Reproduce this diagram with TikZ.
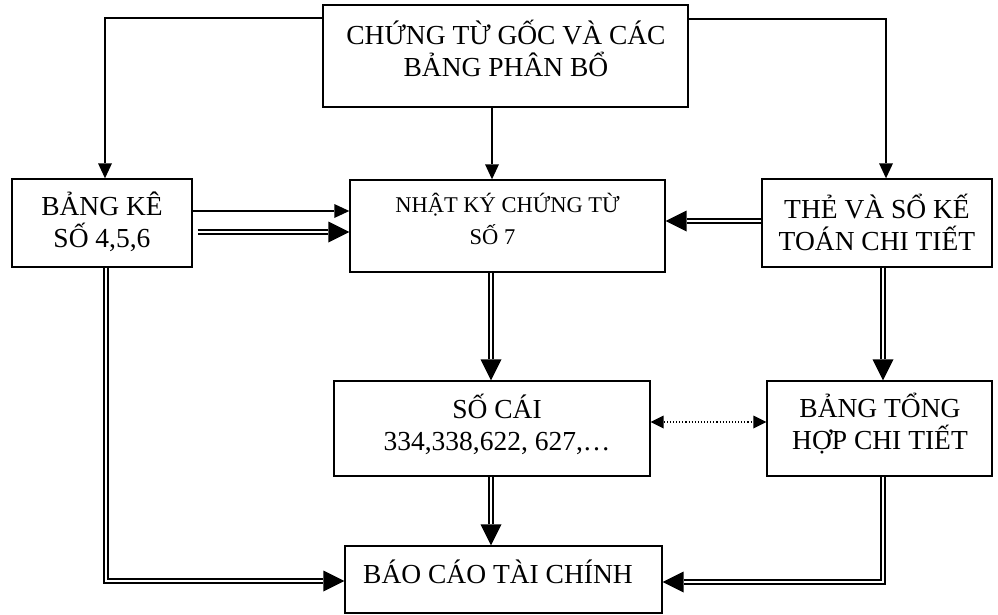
\documentclass[tikz,border=0pt]{standalone}
\usepackage{fontspec}
\setmainfont{Liberation Serif}
\usetikzlibrary{arrows.meta}
\begin{document}
\begin{tikzpicture}[x=1pt,y=-1pt,
  box/.style={draw, line width=1.4pt, inner sep=0pt},
  lbl/.style={align=center, font=\fontsize{27.5}{32}\selectfont, inner sep=0pt},
  lblsmall/.style={align=center, font=\fontsize{22.5}{32}\selectfont, inner sep=0pt},
  single/.style={line width=1.3pt, -{Triangle[length=15pt,width=14pt,line width=0pt]}},
  dbl/.style={line width=6pt, -{Triangle[length=21pt,width=21pt,line width=0pt]},
    postaction={draw=white, line width=2.8pt, -, shorten >=21pt}},
  dots/.style={line width=1.1pt, dotted,
    {Triangle[length=13pt,width=13pt,line width=0pt]}-{Triangle[length=13pt,width=13pt,line width=0pt]}},
]
\useasboundingbox (0,0) rectangle (998,615);

% boxes
\node[box, minimum width=365pt, minimum height=102pt] (src) at (505.5,56) {};
\node[box, minimum width=180pt, minimum height=88pt] (lk) at (102,223) {};
\node[box, minimum width=315pt, minimum height=92pt] (nk) at (507.5,226) {};
\node[box, minimum width=230pt, minimum height=88pt] (tk) at (877,223) {};
\node[box, minimum width=316pt, minimum height=95pt] (sc) at (492,428.5) {};
\node[box, minimum width=225pt, minimum height=95pt] (bt) at (879.5,428.5) {};
\node[box, minimum width=317pt, minimum height=67pt] (bc) at (503.5,579.5) {};

% labels
\node[lbl] (srcT) at (506,48) {CHỨNG TỪ GỐC VÀ CÁC\\BẢNG PHÂN BỔ};
\node[lbl] (lkT) at (102,222) {BẢNG KÊ\\SỐ 4,5,6};
\node[lblsmall] (nkT) at (507.5,219) {NHẬT KÝ CHỨNG TỪ\\\hspace*{-30pt}SỐ 7};
\node[lbl] (tkT) at (877,222) {THẺ VÀ SỔ KẾ\\TOÁN CHI TIẾT};
\node[lbl] (scT) at (497,424) {SỐ CÁI\\334,338,622, 627,…};
\node[lbl] (btT) at (880,424) {BẢNG TỔNG\\HỢP CHI TIẾT};
\node[lbl] (bcT) at (498,572) {BÁO CÁO TÀI CHÍNH};

% connectors
\draw[single] (src.west |- 0,18) -| ([xshift=3pt]lk.north);
\draw[single] (src.east |- 0,19) -| ([xshift=9pt]tk.north);
\draw[single] (src.south -| 492,0) -- (nk.north -| 492,0);
\draw[single] (lk.east |- 0,211) -- (nk.west |- 0,211);
\draw[dbl, shorten <=5pt] (lk.east |- 0,232) -- (nk.west |- 0,232);
\draw[dbl] (tk.west |- 0,221) -- (nk.east |- 0,221);
\draw[dbl] (nk.south -| 491,0) -- (sc.north -| 491,0);
\draw[dbl] (tk.south -| 883,0) -- (bt.north -| 883,0);
\draw[dots] (sc.east |- 0,422) -- (bt.west |- 0,422);
\draw[dbl] (sc.south -| 491,0) -- (bc.north -| 491,0);
\draw[dbl] (lk.south -| 106,0) |- (bc.west |- 0,581);
\draw[dbl] (bt.south -| 883,0) |- (bc.east |- 0,582);
\end{tikzpicture}
\end{document}
